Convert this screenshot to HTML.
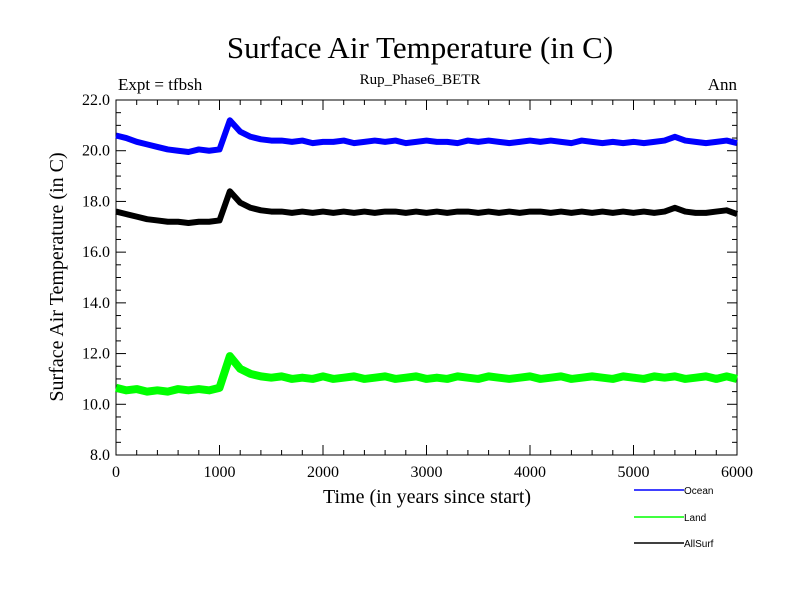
<!DOCTYPE html>
<html><head><meta charset="utf-8"><style>
body{margin:0;background:#fff}
svg text{font-family:"Liberation Serif",serif}
</style></head><body>
<svg id="c" width="800" height="600" xmlns="http://www.w3.org/2000/svg">
<text x="420" y="58" font-size="31" text-anchor="middle">Surface Air Temperature (in C)</text>
<text x="118" y="90" font-size="17">Expt = tfbsh</text>
<text x="420" y="84" font-size="15" text-anchor="middle">Rup_Phase6_BETR</text>
<text x="737" y="90" font-size="17" text-anchor="end">Ann</text>
<text x="427" y="503" font-size="20" text-anchor="middle">Time (in years since start)</text>
<text transform="translate(63,277) rotate(-90)" font-size="20" text-anchor="middle">Surface Air Temperature (in C)</text>
<g id="axes"></g><g id="series"></g><g id="legend"></g>
</svg>
<script>
const years=[];for(let i=0;i<=60;i++)years.push(i*100);
const ocean=[20.6,20.5,20.35,20.25,20.15,20.05,20.0,19.95,20.05,20.0,20.05,21.2,20.75,20.55,20.45,20.4,20.4,20.35,20.4,20.3,20.35,20.35,20.4,20.3,20.35,20.4,20.35,20.4,20.3,20.35,20.4,20.35,20.35,20.3,20.4,20.35,20.4,20.35,20.3,20.35,20.4,20.35,20.4,20.35,20.3,20.4,20.35,20.3,20.35,20.3,20.35,20.3,20.35,20.4,20.55,20.4,20.35,20.3,20.35,20.4,20.3];
const land=[10.65,10.55,10.6,10.5,10.55,10.5,10.6,10.55,10.6,10.55,10.65,11.9,11.4,11.2,11.1,11.05,11.1,11.0,11.05,11.0,11.1,11.0,11.05,11.1,11.0,11.05,11.1,11.0,11.05,11.1,11.0,11.05,11.0,11.1,11.05,11.0,11.1,11.05,11.0,11.05,11.1,11.0,11.05,11.1,11.0,11.05,11.1,11.05,11.0,11.1,11.05,11.0,11.1,11.05,11.1,11.0,11.05,11.1,11.0,11.1,11.0];
const allsurf=[17.6,17.5,17.4,17.3,17.25,17.2,17.2,17.15,17.2,17.2,17.25,18.4,17.95,17.75,17.65,17.6,17.6,17.55,17.6,17.55,17.6,17.55,17.6,17.55,17.6,17.55,17.6,17.6,17.55,17.6,17.55,17.6,17.55,17.6,17.6,17.55,17.6,17.55,17.6,17.55,17.6,17.6,17.55,17.6,17.55,17.6,17.55,17.6,17.55,17.6,17.55,17.6,17.55,17.6,17.75,17.6,17.55,17.55,17.6,17.65,17.5];
const xTicks=[0,1000,2000,3000,4000,5000,6000];
const yTicks=[8,10,12,14,16,18,20,22];
const L=116,R=737,T=100,B=455;
const X=v=>L+(v/6000)*(R-L), Y=v=>B-(v-8)/14*(B-T);
const ns="http://www.w3.org/2000/svg";
function mk(t,a,p){const e=document.createElementNS(ns,t);for(const k in a)e.setAttribute(k,a[k]);p.appendChild(e);return e;}
const ax=document.getElementById('axes');
const fr=mk('rect',{x:L,y:T,width:R-L,height:B-T,fill:'none',stroke:'#000','stroke-width':1},ax);


for(let v=0;v<=6000;v+=200){const maj=v%1000===0,len=maj?10:5,x=X(v);
 mk('line',{x1:x,y1:B,x2:x,y2:B-len,stroke:'#000'},ax);mk('line',{x1:x,y1:T,x2:x,y2:T+len,stroke:'#000'},ax);}
for(let v=8;v<=22.001;v+=0.5){const maj=Math.abs(v%2)<1e-6,len=maj?10:5,y=Y(v);
 mk('line',{x1:L,y1:y,x2:L+len,y2:y,stroke:'#000'},ax);mk('line',{x1:R,y1:y,x2:R-len,y2:y,stroke:'#000'},ax);}
xTicks.forEach(v=>{const t=mk('text',{x:X(v),y:B+22,'font-size':16,'text-anchor':'middle'},ax);t.textContent=v;
 
 });
yTicks.forEach(v=>{const t=mk('text',{x:L-6,y:Y(v)+5,'font-size':16,'text-anchor':'end'},ax);t.textContent=v.toFixed(1);
 
 });
const sg=document.getElementById('series');
[[ocean,'#0000ff','ocean-line',6],[allsurf,'#000','allsurf-line',6],[land,'#00ff00','land-line',8]].forEach(([d,c,n,w])=>{
 const p=mk('polyline',{points:d.map((v,i)=>X(years[i])+','+Y(v)).join(' '),fill:'none',stroke:c,'stroke-width':w,'stroke-linejoin':'round'},sg);
 
 });
const lg=document.getElementById('legend');
[['Ocean','#0000ff',490],['Land','#00ff00',517],['AllSurf','#000',543]].forEach(([n,c,y])=>{
 mk('line',{x1:634,y1:y,x2:684,y2:y,stroke:c,'stroke-width':1.5},lg);
 const t=mk('text',{x:684,y:y+4,'font-size':10,style:'font-family:"Liberation Sans",sans-serif'},lg);t.textContent=n;
 
 });
</script>
</body></html>
